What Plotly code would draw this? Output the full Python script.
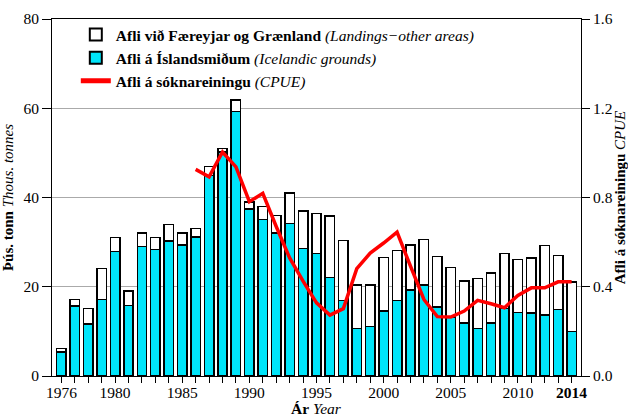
import plotly.graph_objects as go

years = list(range(1976, 2015))
total = [6.2, 17.1, 15.1, 24.1, 31.0, 19.1, 32.0, 31.0, 34.0, 32.0,
         33.1, 47.0, 51.0, 61.9, 39.0, 38.0, 36.0, 41.0, 37.0, 36.4,
         35.9, 30.4, 20.4, 20.4, 26.6, 28.1, 29.4, 30.6, 26.8, 24.3,
         21.3, 21.9, 23.1, 27.4, 26.1, 26.4, 29.3, 27.0, 21.1]
iceland = [5.4, 15.7, 11.6, 17.1, 27.9, 15.8, 29.0, 28.4, 30.2, 29.4,
           31.1, 44.9, 50.2, 59.3, 37.4, 35.1, 32.0, 34.2, 28.6, 27.4,
           22.1, 16.9, 10.7, 11.1, 14.6, 16.9, 19.3, 20.4, 15.5, 13.1,
           11.9, 10.6, 11.9, 15.1, 14.2, 14.1, 13.7, 14.9, 10.0]
other = [round(t - i, 2) for t, i in zip(total, iceland)]

cpue_years = list(range(1986, 2015))
cpue = [0.926, 0.893, 1.004, 0.937, 0.781, 0.819, 0.67, 0.529, 0.425, 0.328,
        0.273, 0.302, 0.481, 0.551, 0.596, 0.645, 0.492, 0.343, 0.266, 0.264,
        0.291, 0.339, 0.324, 0.306, 0.361, 0.395, 0.395, 0.422, 0.422]

label_years = {1976: "1976", 1980: "1980", 1985: "1985", 1990: "1990", 1995: "1995",
               2000: "2000", 2005: "2005", 2010: "2010", 2014: "<b>2014</b>"}
tick_text = [label_years.get(y, "") for y in years]

FONT = "Liberation Serif, Times New Roman, serif"
FS = 15.5
TS = 15

fig = go.Figure()
fig.add_trace(go.Bar(
    x=years, y=iceland, name="<b>Afli á Íslandsmiðum</b> <i>(Icelandic grounds)</i>",
    marker=dict(color="#00E5FA", line=dict(color="black", width=1.5)),
    width=0.7, legendrank=2))
fig.add_trace(go.Bar(
    x=years, y=other, name="<b>Afli við Færeyjar og Grænland</b> <i>(Landings−other areas)</i>",
    marker=dict(color="white", line=dict(color="black", width=1.5)),
    width=0.7, legendrank=1))
fig.add_trace(go.Scatter(
    x=cpue_years, y=cpue, yaxis="y2", mode="lines",
    name="<b>Afli á sóknareiningu</b> <i>(CPUE)</i>",
    line=dict(color="#FF0000", width=3.5), legendrank=3))

fig.update_layout(
    width=628, height=416,
    barmode="stack",
    paper_bgcolor="white", plot_bgcolor="white",
    font=dict(family=FONT, size=FS, color="black"),
    margin=dict(l=52, r=47, t=19, b=40, autoexpand=False),
    showlegend=True,
    legend=dict(x=0.045, y=1.003, xanchor="left", yanchor="top",
                bgcolor="rgba(255,255,255,0)", font=dict(size=FS),
                traceorder="normal", tracegroupgap=0, itemsizing="constant"),
    xaxis=dict(
        range=[1975.3, 2014.7], tickmode="array", tickvals=years, ticktext=tick_text,
        ticks="outside", ticklen=6, tickcolor="black", showline=True, linecolor="black",
        linewidth=1, mirror=True, showgrid=False, zeroline=False, automargin=False,
        ticklabelstandoff=-4, tickangle=0),
    yaxis=dict(
        range=[0, 80], tickvals=[0, 20, 40, 60, 80], ticks="outside", ticklen=9,
        tickcolor="black", showline=True, linecolor="black", linewidth=1,
        showgrid=True, gridcolor="#AAAAAA", gridwidth=1, zeroline=False, automargin=False,
        title=dict(text="<b>Þús. tonn</b> <i>Thous. tonnes</i>", standoff=7,
                   font=dict(size=TS))),
    yaxis2=dict(
        range=[0, 1.6], tickvals=[0, 0.4, 0.8, 1.2, 1.6],
        ticktext=["0.0", "0.4", "0.8", "1.2", "1.6"],
        overlaying="y", side="right", ticks="outside", ticklen=8, tickcolor="black",
        showline=True, linecolor="black", linewidth=1, showgrid=False, zeroline=False,
        automargin=False,
        title=dict(text="<b>Afli á sóknareiningu</b> <i>CPUE</i>", standoff=4,
                   font=dict(size=TS))),
    annotations=[dict(
        text="<b>Ár</b> <i>Year</i>", xref="paper", yref="paper",
        x=0.5, y=-0.063, xanchor="center", yanchor="top", showarrow=False,
        font=dict(size=FS))],
)

fig.write_html(
    "out.html",
    config={"displayModeBar": False},
    post_script="document.body.style.margin='0';document.body.style.overflow='hidden';",
)
